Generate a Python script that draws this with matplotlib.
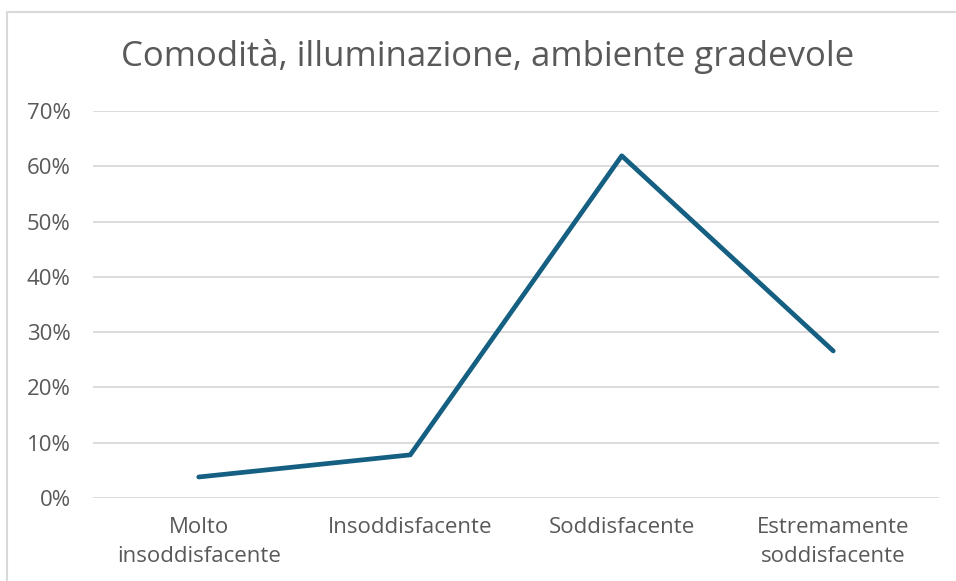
import matplotlib.pyplot as plt
from matplotlib.patches import Rectangle
from matplotlib.ticker import PercentFormatter

# Data
categories = ['Molto\ninsoddisfacente', 'Insoddisfacente', 'Soddisfacente', 'Estremamente\nsoddisfacente']
values = [0.038, 0.078, 0.619, 0.266]
y_ticks = [0, 0.1, 0.2, 0.3, 0.4, 0.5, 0.6, 0.7]

TEXT = '#595959'
GRID = '#D9D9D9'
LINE = '#156082'

plt.rcParams['font.family'] = ['Open Sans', 'DejaVu Sans']

fig = plt.figure(figsize=(9.56, 5.81), dpi=100)
fig.patches.append(Rectangle((7 / 956, -0.1), 1.0, 1 - 12.5 / 581 + 0.1,
                             transform=fig.transFigure, fill=False,
                             edgecolor=GRID, linewidth=1.5))

ax = fig.add_axes([93 / 956, 1 - 498 / 581, (939 - 93) / 956, (498 - 111) / 581])
x = range(len(categories))
ax.plot(x, values, color=LINE, linewidth=3.4, solid_capstyle='round', solid_joinstyle='round')

ax.set_xlim(-0.5, len(categories) - 0.5)
ax.set_ylim(0, 0.7)
ax.set_yticks(y_ticks)
ax.yaxis.set_major_formatter(PercentFormatter(1.0, decimals=0))
ax.set_xticks(list(x))
ax.set_xticklabels(categories, linespacing=1.45)
ax.grid(axis='y', color=GRID, linewidth=1.3)
ax.set_axisbelow(True)
for s in ax.spines.values():
    s.set_visible(False)
ax.tick_params(axis='both', length=0, colors=TEXT, labelsize=16)
ax.tick_params(axis='y', pad=16)
ax.tick_params(axis='x', pad=14)

fig.text(488 / 956, 1 - 57 / 581, 'Comodità, illuminazione, ambiente gradevole',
         ha='center', va='center', fontsize=25, color=TEXT)

fig.savefig('out.png', dpi=100)
